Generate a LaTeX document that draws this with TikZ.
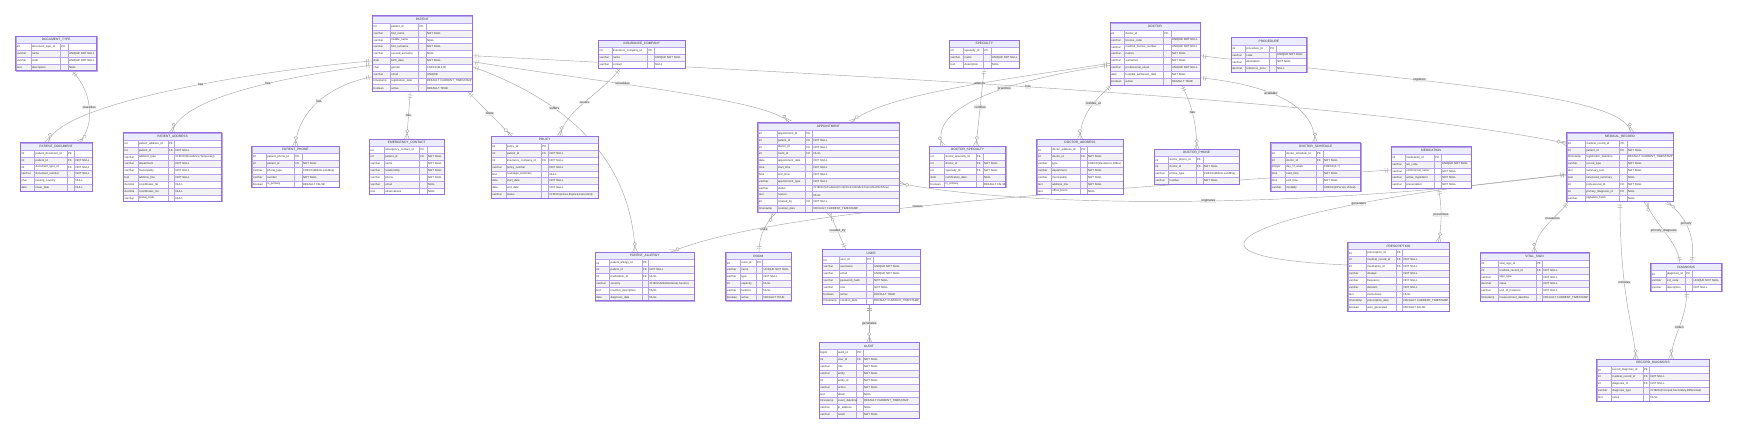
\documentclass[tikz,border=0pt]{standalone}
\usepackage{fontspec}
\setmainfont{Liberation Sans}
\usetikzlibrary{decorations.markings,calc}
\catcode`\_=12
\definecolor{erborder}{HTML}{9370DB}
\definecolor{ercell}{HTML}{B9A3EA}
\definecolor{ertitle}{HTML}{ECECFF}
\definecolor{erodd}{HTML}{FFFFFF}
\definecolor{ereven}{HTML}{F2F2F2}
\definecolor{ertext}{HTML}{333333}
\definecolor{erline}{HTML}{A8A8A8}
\definecolor{erlblbg}{HTML}{E8E8E8}
\pgfdeclarelayer{bg}
\pgfdeclarelayer{edges}
\pgfsetlayers{bg,edges,main}
\def\rowh{6.85}
\def\titleh{7.3}
\newcommand\entity[9]{%
  \def\eXa{#3}\def\eY{#4}\def\eCa{#5}\def\eCb{#6}\def\eCc{#7}\def\eXb{#8}%
  \pgfmathsetmacro\eH{\titleh+#9*\rowh}%
  \pgfmathsetmacro\eW{#8-#3}%
  \node[inner sep=0pt,outer sep=0pt,anchor=north west,minimum width=\eW pt,minimum height=\eH pt] (#1) at (#3,#4) {};%
  \path[fill=ertitle,draw=ercell,cellline] (#3,#4) rectangle (#8,{#4+\titleh});%
  \node[titletext] at ({(#3+#8)/2},{#4+\titleh/2}) {#2};%
}
\newcommand\erow[5]{%
  \pgfmathsetmacro\eRt{\eY+\titleh+(#1-1)*\rowh}%
  \pgfmathsetmacro\eRb{\eRt+\rowh}%
  \pgfmathsetmacro\eRc{\eRt+\rowh/2}%
  \ifodd#1\relax\def\eFill{erodd}\else\def\eFill{ereven}\fi
  \path[fill=\eFill,draw=ercell,cellline] (\eXa,\eRt) rectangle (\eCa,\eRb);%
  \path[fill=\eFill,draw=ercell,cellline] (\eCa,\eRt) rectangle (\eCb,\eRb);%
  \path[fill=\eFill,draw=ercell,cellline] (\eCb,\eRt) rectangle (\eCc,\eRb);%
  \path[fill=\eFill,draw=ercell,cellline] (\eCc,\eRt) rectangle (\eXb,\eRb);%
  \node[celltext] at ({\eXa+1.2},\eRc) {#2};%
  \node[celltext] at ({\eCa+1.2},\eRc) {#3};%
  \node[celltext] at ({\eCb+1.2},\eRc) {#4};%
  \node[celltext] at ({\eCc+1.2},\eRc) {#5};%
}
\newcommand\entityend{\draw[erborder,line width=0.6pt] (\eXa,\eY) rectangle (\eXb,{\eY+\eH});}
\tikzset{
  cellline/.style={line width=0.4pt},
  celltext/.style={anchor=west,inner sep=0pt,text=ertext,font=\fontsize{2.8}{3}\selectfont},
  titletext/.style={inner sep=0pt,text=ertext,font=\fontsize{3.2}{3.6}\selectfont},
  rel/.style={draw=erline,line width=0.45pt},
  lbl/.style={font=\fontsize{3.2}{3.6}\selectfont,text=ertext,fill=erlblbg,fill opacity=0.8,text opacity=1,inner sep=0.6pt},
  one/.style={postaction={decorate,decoration={markings,
    mark=at position 3.5pt with {\draw[erline,line width=0.45pt] (0pt,-2.3pt)--(0pt,2.3pt);},
    mark=at position 5.8pt with {\draw[erline,line width=0.45pt] (0pt,-2.3pt)--(0pt,2.3pt);}}}},
  many/.style={postaction={decorate,decoration={markings,
    mark=at position -0.01pt with {\draw[erline,line width=0.45pt] (-6pt,0pt)--(0pt,2.6pt) (-6pt,0pt)--(0pt,-2.6pt); \draw[erline,line width=0.45pt,fill=white] (-8.2pt,0pt) circle (1.7pt);}}}},
}
\begin{document}
\begin{tikzpicture}[x=1pt,y=-1pt]
\begin{pgfonlayer}{bg}
\fill[white] (0,0) rectangle (1738,434);
\end{pgfonlayer}
\useasboundingbox (0,0) rectangle (1738,434);

% ---------------- entities ----------------
\entity{DocType}{DOCUMENT_TYPE}{15.7}{36}{30.7}{60}{67.7}{96.7}{4}
\erow{1}{int}{document_type_id}{PK}{}
\erow{2}{varchar}{name}{}{UNIQUE NOT NULL}
\erow{3}{varchar}{code}{}{UNIQUE NOT NULL}
\erow{4}{text}{description}{}{NULL}
\entityend

\entity{PatDoc}{PATIENT_DOCUMENT}{20}{142.7}{34.3}{66.7}{74.3}{92.3}{6}
\erow{1}{int}{patient_document_id}{PK}{}
\erow{2}{int}{patient_id}{FK}{NOT NULL}
\erow{3}{int}{document_type_id}{FK}{NOT NULL}
\erow{4}{varchar}{document_number}{}{NOT NULL}
\erow{5}{char}{issuing_country}{}{NULL}
\erow{6}{date}{issue_date}{}{NULL}
\entityend

\entity{PatAddr}{PATIENT_ADDRESS}{123.3}{132.7}{137.7}{167.7}{174.3}{221.7}{9}
\erow{1}{int}{patient_address_id}{PK}{}
\erow{2}{int}{patient_id}{FK}{NOT NULL}
\erow{3}{varchar}{address_type}{}{CHECK(Residence,Temporary)}
\erow{4}{varchar}{department}{}{NOT NULL}
\erow{5}{varchar}{municipality}{}{NOT NULL}
\erow{6}{text}{address_line}{}{NOT NULL}
\erow{7}{decimal}{coordinates_lat}{}{NULL}
\erow{8}{decimal}{coordinates_lon}{}{NULL}
\erow{9}{varchar}{postal_code}{}{NULL}
\entityend

\entity{Patient}{PATIENT}{372.3}{15.7}{390}{418.3}{425.7}{472.3}{10}
\erow{1}{int}{patient_id}{PK}{}
\erow{2}{varchar}{first_name}{}{NOT NULL}
\erow{3}{varchar}{middle_name}{}{NULL}
\erow{4}{varchar}{first_surname}{}{NOT NULL}
\erow{5}{varchar}{second_surname}{}{NULL}
\erow{6}{date}{birth_date}{}{NOT NULL}
\erow{7}{char}{gender}{}{CHECK(M,F,O)}
\erow{8}{varchar}{email}{}{UNIQUE}
\erow{9}{timestamp}{registration_date}{}{DEFAULT CURRENT_TIMESTAMP}
\erow{10}{boolean}{active}{}{DEFAULT TRUE}
\entityend

\entity{PatPhone}{PATIENT_PHONE}{251.7}{146}{266}{294.3}{301.7}{339}{5}
\erow{1}{int}{patient_phone_id}{PK}{}
\erow{2}{int}{patient_id}{FK}{NOT NULL}
\erow{3}{varchar}{phone_type}{}{CHECK(Mobile,Landline)}
\erow{4}{varchar}{number}{}{NOT NULL}
\erow{5}{boolean}{is_primary}{}{DEFAULT FALSE}
\entityend

\entity{EmCont}{EMERGENCY_CONTACT}{369.3}{139.3}{384}{419.3}{426.7}{444.3}{7}
\erow{1}{int}{emergency_contact_id}{PK}{}
\erow{2}{int}{patient_id}{FK}{NOT NULL}
\erow{3}{varchar}{name}{}{NOT NULL}
\erow{4}{varchar}{relationship}{}{NOT NULL}
\erow{5}{varchar}{phone}{}{NOT NULL}
\erow{6}{varchar}{email}{}{NULL}
\erow{7}{text}{observations}{}{NULL}
\entityend

\entity{InsCo}{INSURANCE_COMPANY}{598.3}{40}{611.7}{647.3}{654}{685}{3}
\erow{1}{int}{insurance_company_id}{PK}{}
\erow{2}{varchar}{name}{}{UNIQUE NOT NULL}
\erow{3}{varchar}{contact}{}{NULL}
\entityend

\entity{Policy}{POLICY}{491}{136}{505.7}{541}{548.3}{598.3}{8}
\erow{1}{int}{policy_id}{PK}{}
\erow{2}{int}{patient_id}{FK}{NOT NULL}
\erow{3}{int}{insurance_company_id}{FK}{NOT NULL}
\erow{4}{varchar}{policy_number}{}{NOT NULL}
\erow{5}{text}{coverage_summary}{}{NULL}
\erow{6}{date}{start_date}{}{NOT NULL}
\erow{7}{date}{end_date}{}{NOT NULL}
\erow{8}{varchar}{status}{}{CHECK(Active,Expired,Cancelled)}
\entityend

\entity{Appt}{APPOINTMENT}{757.7}{122.7}{776.7}{805.3}{812.3}{899}{12}
\erow{1}{int}{appointment_id}{PK}{}
\erow{2}{int}{patient_id}{FK}{NOT NULL}
\erow{3}{int}{doctor_id}{FK}{NOT NULL}
\erow{4}{int}{room_id}{FK}{NULL}
\erow{5}{date}{appointment_date}{}{NOT NULL}
\erow{6}{time}{start_time}{}{NOT NULL}
\erow{7}{time}{end_time}{}{NOT NULL}
\erow{8}{varchar}{appointment_type}{}{NOT NULL}
\erow{9}{varchar}{status}{}{CHECK(Scheduled,Confirmed,Attended,Cancelled,NoShow)}
\erow{10}{text}{reason}{}{NULL}
\erow{11}{int}{created_by}{FK}{NOT NULL}
\erow{12}{timestamp}{creation_date}{}{DEFAULT CURRENT_TIMESTAMP}
\entityend

\entity{Spec}{SPECIALTY}{949.3}{40}{963.3}{983.3}{990.7}{1019.3}{3}
\erow{1}{int}{specialty_id}{PK}{}
\erow{2}{varchar}{name}{}{UNIQUE NOT NULL}
\erow{3}{text}{description}{}{NULL}
\entityend

\entity{DocSpec}{DOCTOR_SPECIALTY}{929.3}{146}{944.3}{975.7}{982.7}{1005.7}{5}
\erow{1}{int}{doctor_specialty_id}{PK}{}
\erow{2}{int}{doctor_id}{FK}{NOT NULL}
\erow{3}{int}{specialty_id}{FK}{NOT NULL}
\erow{4}{date}{certification_date}{}{NULL}
\erow{5}{boolean}{is_primary}{}{DEFAULT FALSE}
\entityend

\entity{Doctor}{DOCTOR}{1110}{22.7}{1124.3}{1163.3}{1170.7}{1200}{8}
\erow{1}{int}{doctor_id}{PK}{}
\erow{2}{varchar}{license_code}{}{UNIQUE NOT NULL}
\erow{3}{varchar}{medical_license_number}{}{UNIQUE NOT NULL}
\erow{4}{varchar}{names}{}{NOT NULL}
\erow{5}{varchar}{surnames}{}{NOT NULL}
\erow{6}{varchar}{professional_email}{}{UNIQUE NOT NULL}
\erow{7}{date}{hospital_admission_date}{}{NOT NULL}
\erow{8}{boolean}{active}{}{DEFAULT TRUE}
\entityend

\entity{DocAddr}{DOCTOR_ADDRESS}{1036.7}{139.3}{1051}{1080}{1086.7}{1123.3}{7}
\erow{1}{int}{doctor_address_id}{PK}{}
\erow{2}{int}{doctor_id}{FK}{NOT NULL}
\erow{3}{varchar}{type}{}{CHECK(Residence,Office)}
\erow{4}{varchar}{department}{}{NOT NULL}
\erow{5}{varchar}{municipality}{}{NOT NULL}
\erow{6}{text}{address_line}{}{NOT NULL}
\erow{7}{text}{office_hours}{}{NULL}
\entityend

\entity{DocPhone}{DOCTOR_PHONE}{1154}{149.3}{1168.3}{1195.7}{1202.7}{1239}{4}
\erow{1}{int}{doctor_phone_id}{PK}{}
\erow{2}{int}{doctor_id}{FK}{NOT NULL}
\erow{3}{varchar}{phone_type}{}{CHECK(Mobile,Landline)}
\erow{4}{varchar}{number}{}{NOT NULL}
\entityend

\entity{Proc}{PROCEDURE}{1231}{37.6}{1245}{1269}{1276}{1306.7}{4}
\erow{1}{int}{procedure_id}{PK}{}
\erow{2}{varchar}{code}{}{UNIQUE NOT NULL}
\erow{3}{varchar}{description}{}{NOT NULL}
\erow{4}{decimal}{reference_price}{}{NULL}
\entityend

\entity{DocSched}{DOCTOR_SCHEDULE}{1270.7}{142.7}{1285}{1315.7}{1322.7}{1360.7}{6}
\erow{1}{int}{doctor_schedule_id}{PK}{}
\erow{2}{int}{doctor_id}{FK}{NOT NULL}
\erow{3}{integer}{day_of_week}{}{CHECK(1-7)}
\erow{4}{time}{start_time}{}{NOT NULL}
\erow{5}{time}{end_time}{}{NOT NULL}
\erow{6}{varchar}{modality}{}{CHECK(InPerson,Virtual)}
\entityend

\entity{Med}{MEDICATION}{1391}{146.7}{1405}{1434}{1441}{1471}{5}
\erow{1}{int}{medication_id}{PK}{}
\erow{2}{varchar}{atc_code}{}{UNIQUE NOT NULL}
\erow{3}{varchar}{commercial_name}{}{NOT NULL}
\erow{4}{varchar}{active_ingredient}{}{NOT NULL}
\erow{5}{varchar}{presentation}{}{NOT NULL}
\entityend

\entity{MedRec}{MEDICAL_RECORD}{1566.7}{132.7}{1585}{1619.3}{1626.7}{1673.3}{9}
\erow{1}{int}{medical_record_id}{PK}{}
\erow{2}{int}{patient_id}{FK}{NOT NULL}
\erow{3}{timestamp}{registration_datetime}{}{DEFAULT CURRENT_TIMESTAMP}
\erow{4}{varchar}{record_type}{}{NOT NULL}
\erow{5}{text}{summary_text}{}{NOT NULL}
\erow{6}{json}{structured_summary}{}{NULL}
\erow{7}{int}{professional_id}{FK}{NOT NULL}
\erow{8}{int}{primary_diagnosis_id}{FK}{NULL}
\erow{9}{varchar}{signature_hash}{}{NULL}
\entityend

\entity{PatAll}{PATIENT_ALLERGY}{595}{252.3}{609.3}{641.7}{648.3}{694.3}{6}
\erow{1}{int}{patient_allergy_id}{PK}{}
\erow{2}{int}{patient_id}{FK}{NOT NULL}
\erow{3}{int}{medication_id}{FK}{NULL}
\erow{4}{varchar}{severity}{}{CHECK(Mild,Moderate,Severe)}
\erow{5}{text}{reaction_description}{}{NULL}
\erow{6}{date}{diagnosis_date}{}{NULL}
\entityend

\entity{Room}{ROOM}{725.7}{252.3}{740}{756}{762.3}{791}{6}
\erow{1}{int}{room_id}{PK}{}
\erow{2}{varchar}{name}{}{UNIQUE NOT NULL}
\erow{3}{varchar}{type}{}{NOT NULL}
\erow{4}{int}{capacity}{}{NULL}
\erow{5}{varchar}{location}{}{NULL}
\erow{6}{boolean}{active}{}{DEFAULT TRUE}
\entityend

\entity{User}{USER}{822.3}{249.3}{839}{866}{873}{920}{7}
\erow{1}{int}{user_id}{PK}{}
\erow{2}{varchar}{username}{}{UNIQUE NOT NULL}
\erow{3}{varchar}{email}{}{UNIQUE NOT NULL}
\erow{4}{varchar}{password_hash}{}{NOT NULL}
\erow{5}{varchar}{role}{}{NOT NULL}
\erow{6}{boolean}{active}{}{DEFAULT TRUE}
\erow{7}{timestamp}{creation_date}{}{DEFAULT CURRENT_TIMESTAMP}
\entityend

\entity{Audit}{AUDIT}{819}{342.3}{836.7}{856}{862.7}{919}{10}
\erow{1}{bigint}{audit_id}{PK}{}
\erow{2}{int}{user_id}{FK}{NOT NULL}
\erow{3}{varchar}{role}{}{NOT NULL}
\erow{4}{varchar}{entity}{}{NOT NULL}
\erow{5}{int}{entity_id}{}{NOT NULL}
\erow{6}{varchar}{action}{}{NOT NULL}
\erow{7}{text}{detail}{}{NULL}
\erow{8}{timestamp}{event_datetime}{}{DEFAULT CURRENT_TIMESTAMP}
\erow{9}{varchar}{ip_address}{}{NULL}
\erow{10}{varchar}{result}{}{NOT NULL}
\entityend

\entity{Presc}{PRESCRIPTION}{1347.7}{242.3}{1366}{1395.7}{1402.3}{1449.3}{9}
\erow{1}{int}{prescription_id}{PK}{}
\erow{2}{int}{medical_record_id}{FK}{NOT NULL}
\erow{3}{int}{medication_id}{FK}{NOT NULL}
\erow{4}{varchar}{dosage}{}{NOT NULL}
\erow{5}{varchar}{frequency}{}{NOT NULL}
\erow{6}{varchar}{duration}{}{NOT NULL}
\erow{7}{text}{instructions}{}{NULL}
\erow{8}{timestamp}{prescription_date}{}{DEFAULT CURRENT_TIMESTAMP}
\erow{9}{boolean}{auto_generated}{}{DEFAULT FALSE}
\entityend

\entity{Vital}{VITAL_SIGN}{1480}{252.7}{1498.3}{1535.7}{1542.3}{1589}{6}
\erow{1}{int}{vital_sign_id}{PK}{}
\erow{2}{int}{medical_record_id}{FK}{NOT NULL}
\erow{3}{varchar}{sign_type}{}{NOT NULL}
\erow{4}{decimal}{value}{}{NOT NULL}
\erow{5}{varchar}{unit_of_measure}{}{NOT NULL}
\erow{6}{timestamp}{measurement_datetime}{}{DEFAULT CURRENT_TIMESTAMP}
\entityend

\entity{Diag}{DIAGNOSIS}{1650.7}{263.3}{1665.7}{1685}{1692.3}{1721.7}{3}
\erow{1}{int}{diagnosis_id}{PK}{}
\erow{2}{varchar}{icd_code}{}{UNIQUE NOT NULL}
\erow{3}{varchar}{description}{}{NOT NULL}
\entityend

\entity{RecDiag}{RECORD_DIAGNOSIS}{1596.7}{359.3}{1611}{1642.7}{1649.3}{1709.3}{5}
\erow{1}{int}{record_diagnosis_id}{PK}{}
\erow{2}{int}{medical_record_id}{FK}{NOT NULL}
\erow{3}{int}{diagnosis_id}{FK}{NOT NULL}
\erow{4}{varchar}{diagnosis_type}{}{CHECK(Principal,Secondary,Differential)}
\erow{5}{text}{notes}{}{NULL}
\entityend

% ---------------- relationships ----------------
\begin{pgfonlayer}{edges}
\draw[rel,one,many] ($(Patient.north west)+(0,45.3)$) .. controls (280,68) and (60,100) .. ($(PatDoc.north west)+(27.7,0)$) node[lbl,pos=0.45] {has};
\draw[rel,one,many] ($(DocType.south west)+(56,0)$) .. controls (92,90) and (96,125) .. ($(PatDoc.north west)+(59,0)$) node[lbl,pos=0.5] {classifies};
\draw[rel,one,many] ($(Patient.north west)+(0,49.3)$) .. controls (300,75) and (180,95) .. ($(PatAddr.north west)+(48.7,0)$) node[lbl,pos=0.42] {has};
\draw[rel,one,many] ($(Patient.north west)+(0,61)$) .. controls (330,85) and (298,110) .. ($(PatPhone.north west)+(43.6,0)$) node[lbl,pos=0.5] {has};
\draw[rel,one,many] ($(Patient.south west)+(38,0)$) -- ($(EmCont.north west)+(37.4,0)$) node[lbl,pos=0.5] {has};
\draw[rel,one,many] ($(Patient.south west)+(95.4,0)$) -- ($(Policy.north west)+(20.7,0)$) node[lbl,pos=0.5] {holds};
\draw[rel,one,many] ($(InsCo.south west)+(22.4,0)$) .. controls (600,95) and (565,110) .. ($(Policy.north west)+(69,0)$) node[lbl,pos=0.5] {issues};
\draw[rel,one,many] ($(Patient.north east)+(0,40)$) .. controls (900,78) and (1350,100) .. ($(MedRec.north west)+(0,10.6)$) node[lbl,pos=0.44] {has};
\draw[rel,one,many] ($(Patient.north east)+(0,46)$) .. controls (620,85) and (770,100) .. ($(Appt.north west)+(32,0)$) node[lbl,pos=0.35] {schedules};
\draw[rel,one,many] ($(Patient.north east)+(0,51)$) .. controls (580,105) and (632,170) .. ($(PatAll.north west)+(40,0)$) node[lbl,pos=0.3] {suffers};
\draw[rel,one,many] ($(Doctor.north west)+(0,40.6)$) .. controls (1000,80) and (880,95) .. ($(Appt.north west)+(93,0)$) node[lbl,pos=0.4] {attends};
\draw[rel,one,many] ($(Doctor.north west)+(0,42.6)$) .. controls (1040,75) and (925,100) .. ($(DocSpec.north west)+(13.4,0)$) node[lbl,pos=0.45] {practices};
\draw[rel,one,many] ($(Spec.south west)+(35,0)$) -- ($(DocSpec.north west)+(46.7,0)$) node[lbl,pos=0.5] {certifies};
\draw[rel,one,many] ($(Doctor.south west)+(2,0)$) .. controls (1095,100) and (1080,115) .. ($(DocAddr.north west)+(43.3,0)$) node[lbl,pos=0.4] {resides_at};
\draw[rel,one,many] ($(Doctor.south west)+(71.7,0)$) .. controls (1192,105) and (1197,125) .. ($(DocPhone.north west)+(42.7,0)$) node[lbl,pos=0.45] {has};
\draw[rel,one,many] ($(Doctor.north east)+(0,55)$) .. controls (1270,85) and (1315,105) .. ($(DocSched.north west)+(44.3,0)$) node[lbl,pos=0.4] {available};
\draw[rel,one,many] ($(Doctor.north east)+(0,33)$) .. controls (1450,85) and (1625,95) .. ($(MedRec.north west)+(64.3,0)$) node[lbl,pos=0.33] {registers};
\draw[rel,one,many] ($(Med.north west)+(0,23.3)$) .. controls (1000,195) and (760,215) .. ($(PatAll.north west)+(75,0)$) node[lbl,pos=0.5] {causes};
\draw[rel,one,many] ($(MedRec.north west)+(0,41.3)$) .. controls (1350,205) and (1050,212) .. ($(Appt.north east)+(0,60.6)$) node[lbl,pos=0.5] {originates};
\draw[rel,one,many] ($(Room.north west)+(33.3,0)$) .. controls (759,230) and (770,222) .. ($(Appt.south west)+(15.6,0)$) node[lbl,pos=0.45] {uses};
\draw[rel,one,many] ($(User.north west)+(23.4,0)$) -- ($(Appt.south west)+(71.6,0)$) node[lbl,pos=0.5] {created_by};
\draw[rel,one,many] ($(User.south west)+(47,0)$) -- ($(Audit.north west)+(50.3,0)$) node[lbl,pos=0.5] {generates};
\draw[rel,one,many] ($(Med.south west)+(47.3,0)$) .. controls (1442,205) and (1442,225) .. ($(Presc.north west)+(90.6,0)$) node[lbl,pos=0.5] {prescribes};
\draw[rel,one,many] ($(MedRec.north west)+(0,42.3)$) .. controls (1300,200) and (1120,255) .. ($(Presc.north west)+(0,22.7)$) node[lbl,pos=0.3] {generates};
\draw[rel,one,many] ($(MedRec.south west)+(1.6,0)$) .. controls (1560,215) and (1534,230) .. ($(Vital.north west)+(54.3,0)$) node[lbl,pos=0.4] {measures};
\draw[rel,one,many] ($(MedRec.south west)+(53.3,0)$) .. controls (1620,300) and (1635,330) .. ($(RecDiag.north west)+(39,0)$) node[lbl,pos=0.35] {includes};
\draw[rel,one,many] ($(Diag.north west)+(29.3,0)$) .. controls (1678,240) and (1650,220) .. ($(MedRec.south west)+(80,0)$) node[lbl,pos=0.5] {primary_diagnosis};
\draw[rel,one,many] ($(Diag.north west)+(41,0)$) .. controls (1697,230) and (1680,212) .. ($(MedRec.south west)+(100,0)$) node[lbl,pos=0.5] {primary};
\draw[rel,one,many] ($(Diag.south west)+(36,0)$) .. controls (1687,320) and (1672,335) .. ($(RecDiag.north west)+(74.3,0)$) node[lbl,pos=0.5] {codes};
\end{pgfonlayer}
\end{tikzpicture}
\end{document}
